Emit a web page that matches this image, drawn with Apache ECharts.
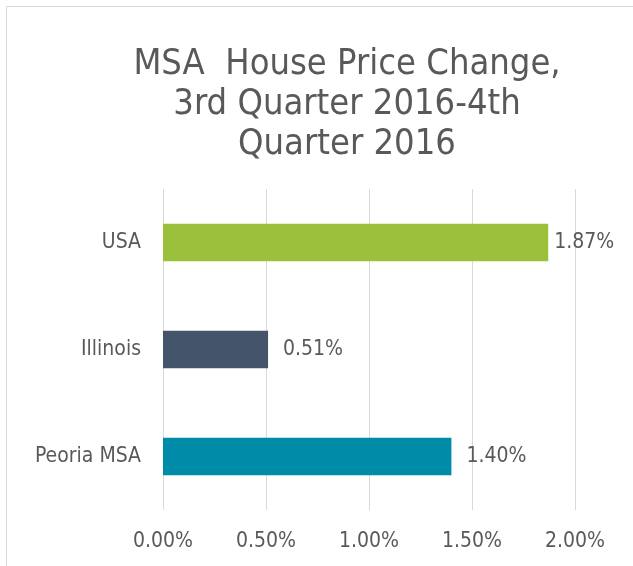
<!DOCTYPE html>
<html>
<head>
<meta charset="utf-8">
<script src="https://cdn.jsdelivr.net/npm/echarts@6/dist/echarts.min.js"></script>
<style>
  html, body { margin: 0; padding: 0; background: #ffffff; }
  #chart { width: 633px; height: 566px; }
</style>
</head>
<body>
<div id="chart"></div>
<script>
// Quarter-over-quarter house price change, bottom-to-top order on the category axis
const categories = ['Peoria MSA', 'Illinois', 'USA'];
const priceChange = [1.40, 0.51, 1.87];
const barColors = ['#008ba8', '#44546a', '#9bc13c'];
const axisTicks = [0, 0.5, 1.0, 1.5, 2.0];

const FONT = 'DejaVu Sans Condensed';
const TEXT = '#595959';

const chart = echarts.init(document.getElementById('chart'), null, { renderer: 'canvas' });

chart.setOption({
  animation: false,
  backgroundColor: '#ffffff',
  textStyle: { fontFamily: FONT },
  title: {
    text: 'MSA  House Price Change,\n3rd Quarter 2016-4th\nQuarter 2016',
    left: 342,
    top: 40,
    textAlign: 'center',
    textStyle: {
      fontFamily: FONT,
      fontSize: 36,
      fontWeight: 'normal',
      color: TEXT,
      lineHeight: 40
    }
  },
  graphic: [{
    type: 'rect',
    silent: true,
    shape: { x: 6.5, y: 6.5, width: 800, height: 800 },
    style: { fill: 'none', stroke: '#d9d9d9', lineWidth: 1 }
  }],
  grid: { left: 163, right: 58, top: 189, bottom: 56, containLabel: false },
  xAxis: {
    type: 'value',
    min: axisTicks[0],
    max: axisTicks[axisTicks.length - 1],
    interval: axisTicks[1] - axisTicks[0],
    axisLine: { show: false },
    axisTick: { show: false },
    splitLine: { show: true, lineStyle: { color: '#d9d9d9', width: 1 } },
    axisLabel: {
      margin: 21,
      fontFamily: FONT,
      fontSize: 21,
      color: TEXT,
      formatter: v => v.toFixed(2) + '%'
    }
  },
  yAxis: {
    type: 'category',
    data: categories,
    axisLine: { show: false },
    axisTick: { show: false },
    axisLabel: { margin: 22, fontFamily: FONT, fontSize: 21, color: TEXT }
  },
  series: [{
    type: 'bar',
    barCategoryGap: '65%',
    data: priceChange.map((v, i) => ({
      value: v,
      itemStyle: { color: barColors[i] },
      label: { distance: i === 2 ? 6 : 15 }
    })),
    label: {
      show: true,
      position: 'right',
      fontFamily: FONT,
      fontSize: 21,
      color: TEXT,
      formatter: p => p.value.toFixed(2) + '%'
    }
  }]
});
</script>
</body>
</html>
